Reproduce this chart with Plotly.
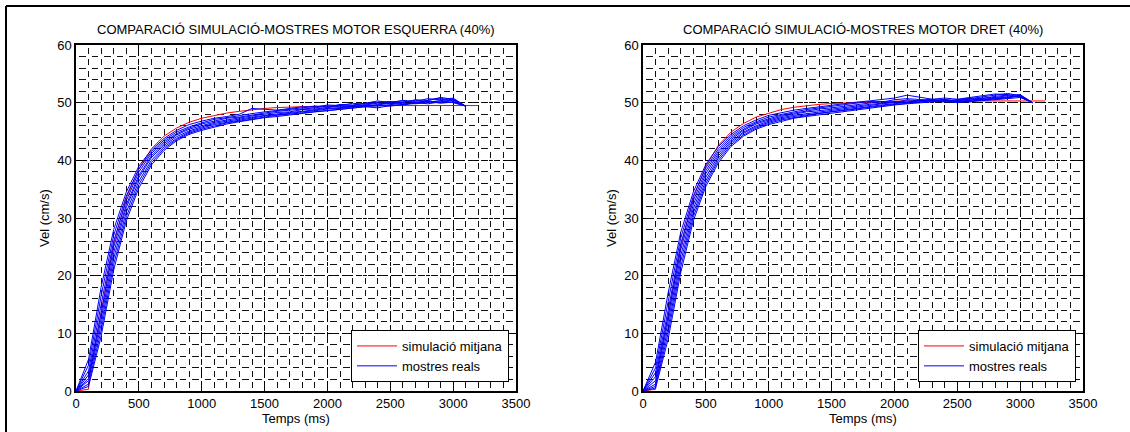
import plotly.graph_objects as go

W, H = 1130, 432

# ---------------- data ----------------
t_samples = [0, 100, 200, 300, 400, 500, 600, 700, 800, 900, 1000, 1100, 1200, 1300, 1400, 1500,
             1600, 1700, 1800, 1900, 2000, 2100, 2200, 2300, 2400, 2500, 2600, 2700, 2800, 2900, 3000, 3100]
t_sim = [0, 100, 105, 200, 300, 400, 500, 600, 700, 800, 900, 1000, 1100, 1200, 1300, 1400, 1500,
         1600, 1700, 1800, 1900, 2000, 2100, 2200, 2300, 2400, 2500, 2600, 2700, 2800, 2900, 3000, 3100, 3200]

sim_left = [0, 0.3, 2.5, 13.5, 25.5, 33.5, 38.5, 42.0, 44.2, 45.6, 46.6, 47.3, 47.8, 48.2, 48.5, 48.8, 49.0,
            49.15, 49.25, 49.35, 49.4, 49.45, 49.5, 49.5, 49.5, 49.5, 49.5, 49.5, 49.5, 49.5, 49.5, 49.5, 49.5, 49.5]
sim_right = [0, 0.3, 2.5, 13.0, 25.0, 33.5, 39.0, 42.6, 44.9, 46.4, 47.5, 48.2, 48.8, 49.2, 49.5, 49.7, 49.85,
             49.95, 50.05, 50.15, 50.2, 50.25, 50.3, 50.3, 50.3, 50.3, 50.3, 50.3, 50.3, 50.3, 50.3, 50.3, 50.3, 50.3]

left_L1 = [0, 5.5, 18, 28, 34.5, 39, 41.8, 43.8, 45.2, 46.2, 46.8, 47.3, 47.6, 48.0, 49.0, 48.9,
           48.7, 49.0, 49.3, 49.2, 49.6, 49.5, 49.9, 49.7, 50.1, 50.2, 50.0, 50.5, 50.4, 50.9, 50.6, 49.4]
left_L2 = [0, 4.5, 16.5, 27, 33.8, 38.5, 41.5, 43.5, 44.9, 45.8, 46.5, 47.1, 47.4, 47.8, 48.1, 48.4,
           48.6, 48.9, 49.1, 49.4, 49.2, 49.7, 49.6, 49.9, 50.3, 50.0, 50.4, 50.2, 50.7, 50.5, 50.8, 49.4]
left_L3 = [0, 3.5, 15, 26, 33, 38, 41.2, 43.2, 44.6, 45.6, 46.3, 46.8, 47.3, 47.5, 47.9, 48.2,
           48.5, 48.7, 48.8, 49.1, 49.4, 49.2, 49.5, 49.9, 49.7, 50.1, 50.3, 50.0, 50.4, 50.8, 50.2, 49.4]
left_L4 = [0, 2.8, 13.5, 25, 32.3, 37.4, 40.8, 42.9, 44.4, 45.4, 46.0, 46.6, 47.0, 47.4, 47.7, 48.0,
           48.3, 48.4, 48.8, 48.9, 49.1, 49.4, 49.3, 49.6, 49.9, 49.8, 50.1, 50.4, 50.1, 50.3, 50.6, 49.4]
left_L5 = [0, 2.2, 12.5, 24, 31.8, 37, 40.5, 42.6, 44.1, 45.1, 45.8, 46.4, 46.8, 47.2, 47.5, 47.8,
           48.1, 48.3, 48.5, 48.8, 49.0, 49.1, 49.4, 49.3, 49.6, 49.9, 49.7, 50.0, 50.3, 50.0, 50.4, 49.4]
left_L6 = [0, 1.8, 11.5, 23, 31, 36.4, 40, 42.3, 43.8, 44.9, 45.6, 46.2, 46.6, 47.0, 47.3, 47.7,
           47.9, 48.2, 48.4, 48.6, 48.9, 49.0, 49.2, 49.5, 49.4, 49.7, 49.9, 49.8, 50.1, 50.3, 50.0, 49.4]
left_L7 = [0, 1.2, 10.5, 22, 30.2, 35.8, 39.6, 42, 43.6, 44.7, 45.4, 46.0, 46.5, 46.8, 47.2, 47.5,
           47.8, 48.0, 48.3, 48.5, 48.7, 48.9, 49.1, 49.2, 49.5, 49.4, 49.7, 50.0, 49.8, 50.2, 50.5, 49.4]
left_L8 = [0, 0.8, 9.5, 21, 29.5, 35.2, 39.2, 41.7, 43.4, 44.5, 45.2, 45.8, 46.3, 46.7, 47.1, 47.4,
           47.6, 47.9, 48.1, 48.4, 48.6, 48.8, 49.0, 49.3, 49.1, 49.5, 49.6, 49.9, 50.2, 49.9, 50.1, 49.4]

right_R1 = [0, 5, 17, 27.5, 34.5, 39.3, 42.4, 44.5, 46.0, 47.0, 47.8, 48.3, 48.7, 49.0, 49.3, 49.6,
            49.9, 50.1, 50.3, 50.6, 50.8, 51.3, 50.9, 50.6, 50.8, 50.6, 50.9, 51.2, 51.5, 51.4, 51.0, 50.0]
right_R2 = [0, 4, 15.5, 26.5, 33.8, 38.7, 42.0, 44.2, 45.7, 46.7, 47.5, 48.0, 48.4, 48.8, 49.1, 49.3,
            49.6, 49.9, 50.2, 50.1, 50.5, 50.7, 50.6, 50.4, 50.5, 50.3, 50.7, 51.0, 51.3, 51.6, 51.2, 50.0]
right_R3 = [0, 3.2, 14, 25.5, 33, 38.2, 41.6, 43.9, 45.4, 46.5, 47.2, 47.8, 48.2, 48.6, 48.9, 49.1,
            49.4, 49.6, 49.9, 50.2, 50.0, 50.5, 50.3, 50.6, 50.2, 50.5, 50.8, 50.7, 51.1, 51.3, 51.4, 50.0]
right_R4 = [0, 2.5, 13, 24.5, 32.3, 37.7, 41.2, 43.6, 45.2, 46.3, 47.0, 47.6, 48.0, 48.4, 48.6, 48.9,
            49.2, 49.5, 49.7, 49.9, 50.2, 50.0, 50.4, 50.5, 50.3, 50.0, 50.4, 50.8, 50.9, 51.2, 51.0, 50.0]
right_R5 = [0, 1.8, 12, 23.5, 31.6, 37.1, 40.8, 43.3, 44.9, 46.0, 46.8, 47.4, 47.8, 48.1, 48.4, 48.7,
            49.0, 49.3, 49.5, 49.8, 50.0, 50.3, 50.1, 50.3, 50.6, 50.2, 50.1, 50.6, 50.8, 51.0, 51.2, 50.0]
right_R6 = [0, 1.2, 11, 22.5, 30.9, 36.5, 40.4, 43.0, 44.7, 45.8, 46.6, 47.2, 47.6, 47.9, 48.2, 48.5,
            48.8, 49.1, 49.4, 49.6, 49.8, 50.1, 50.4, 50.2, 50.4, 50.5, 50.3, 50.4, 50.7, 50.9, 51.1, 50.0]
right_R7 = [0, 0.8, 10, 21.5, 30.2, 36.0, 40.0, 42.7, 44.4, 45.6, 46.4, 47.0, 47.4, 47.8, 48.1, 48.4,
            48.6, 48.9, 49.2, 49.5, 49.7, 49.9, 50.2, 50.4, 50.1, 50.3, 50.6, 50.5, 50.6, 50.8, 51.3, 50.0]
right_R8 = [0, 0.5, 9, 20.5, 29.5, 35.5, 39.6, 42.4, 44.2, 45.4, 46.2, 46.8, 47.3, 47.6, 47.9, 48.2,
            48.5, 48.8, 49.0, 49.3, 49.6, 49.8, 50.0, 50.2, 50.3, 50.1, 50.2, 50.4, 50.5, 50.7, 50.9, 50.0]

left_samples = [left_L1, left_L2, left_L3, left_L4, left_L5, left_L6, left_L7, left_L8]
right_samples = [right_R1, right_R2, right_R3, right_R4, right_R5, right_R6, right_R7, right_R8]

titles = ["COMPARACIÓ SIMULACIÓ-MOSTRES MOTOR ESQUERRA (40%)",
          "COMPARACIÓ SIMULACIÓ-MOSTRES MOTOR DRET (40%)"]
x_label = "Temps (ms)"
y_label = "Vel (cm/s)"
legend_names = ["simulació mitjana", "mostres reals"]
x_ticks = [0, 500, 1000, 1500, 2000, 2500, 3000, 3500]
y_ticks = [0, 10, 20, 30, 40, 50, 60]

# ---------------- layout geometry (pixels) ----------------
FONT = "Liberation Sans, Arial, sans-serif"
panels = [
    dict(x0=76, x1=516, xa="x", ya="y", leg="legend"),
    dict(x0=643, x1=1083, xa="x2", ya="y2", leg="legend2"),
]
Y_TOP, Y_BOT = 45, 391
cell_w = (516 - 76) / 35.0      # px per 100 ms
cell_h = (Y_BOT - Y_TOP) / 30.0  # px per 2 cm/s

def mid_dash(period, dash):
    g = (period - dash) / 2.0
    return "0px,%.4fpx,%.4fpx,%.4fpx" % (g, dash, g)

fig = go.Figure()

for p, sim, samples in zip(panels, [sim_left, sim_right], [left_samples, right_samples]):
    fig.add_trace(go.Scatter(x=t_sim, y=sim, mode="lines", name=legend_names[0],
                             line=dict(color="#ff0000", width=1), xaxis=p["xa"], yaxis=p["ya"],
                             legend=p["leg"], showlegend=True))
    for i, s in enumerate(samples):
        fig.add_trace(go.Scatter(x=t_samples, y=s, mode="lines", name=legend_names[1],
                                 line=dict(color="#0000ff", width=1), xaxis=p["xa"], yaxis=p["ya"],
                                 legend=p["leg"], showlegend=(i == 0)))

def xaxis_cfg(p):
    return dict(domain=[p["x0"] / W, p["x1"] / W], range=[0, 3500], tickvals=x_ticks,
                showline=True, linecolor="black", linewidth=1.5, mirror="ticks",
                ticks="inside", ticklen=5, tickcolor="black",
                showgrid=True, gridcolor="black", gridwidth=1.2, griddash="4px,3px",
                minor=dict(dtick=100, showgrid=True, gridcolor="#111111", gridwidth=1,
                           griddash=mid_dash(cell_h, 6.0)),
                zeroline=False, automargin=False, fixedrange=True,
                tickfont=dict(family=FONT, size=13, color="black"),
                anchor=p["ya"])

def yaxis_cfg(p):
    return dict(domain=[1 - Y_BOT / H, 1 - Y_TOP / H], range=[0, 60], tickvals=y_ticks,
                showline=True, linecolor="black", linewidth=1.5, mirror="ticks",
                ticks="inside", ticklen=5, tickcolor="black",
                showgrid=True, gridcolor="black", gridwidth=1.2, griddash="4px,3px",
                minor=dict(dtick=2, showgrid=True, gridcolor="#111111", gridwidth=1,
                           griddash=mid_dash(cell_w, 6.5)),
                zeroline=False, automargin=False, fixedrange=True,
                tickfont=dict(family=FONT, size=13, color="black"),
                anchor=p["xa"])

annotations = []
for p, title in zip(panels, titles):
    cx = (p["x0"] + p["x1"]) / 2
    annotations.append(dict(text=title, x=cx / W, y=1 - 30 / H, xref="paper", yref="paper",
                            showarrow=False, xanchor="center", yanchor="middle",
                            font=dict(family=FONT, size=13, color="black")))
    annotations.append(dict(text=x_label, x=cx / W, y=1 - 418 / H, xref="paper", yref="paper",
                            showarrow=False, xanchor="center", yanchor="middle",
                            font=dict(family=FONT, size=13, color="black")))
    annotations.append(dict(text=y_label, x=(p["x0"] - 32) / W, y=1 - ((Y_TOP + Y_BOT) / 2) / H,
                            xref="paper", yref="paper", textangle=-90,
                            showarrow=False, xanchor="center", yanchor="middle",
                            font=dict(family=FONT, size=13, color="black")))

def legend_cfg(p):
    return dict(x=(p["x1"] - 7) / W, y=1 - 382 / H, xanchor="right", yanchor="bottom",
                xref="paper", yref="paper",
                bgcolor="white", bordercolor="black", borderwidth=1,
                font=dict(family=FONT, size=13, color="black"),
                itemwidth=40, tracegroupgap=0)

fig.update_layout(
    width=W, height=H,
    margin=dict(l=0, r=0, t=0, b=0),
    paper_bgcolor="white", plot_bgcolor="white",
    font=dict(family=FONT, size=13, color="black"),
    xaxis=xaxis_cfg(panels[0]), yaxis=yaxis_cfg(panels[0]),
    xaxis2=xaxis_cfg(panels[1]), yaxis2=yaxis_cfg(panels[1]),
    legend=legend_cfg(panels[0]), legend2=legend_cfg(panels[1]),
    annotations=annotations,
    shapes=[
        dict(type="line", xref="paper", yref="paper", x0=6 / W, x1=1, y0=1 - 6 / H, y1=1 - 6 / H,
             line=dict(color="black", width=2)),
        dict(type="line", xref="paper", yref="paper", x0=6 / W, x1=6 / W, y0=0, y1=1 - 6 / H,
             line=dict(color="black", width=2)),
    ],
)

fig.write_html("out.html", config={"displayModeBar": False},
               post_script="document.body.style.margin='0';document.body.style.padding='0';")
